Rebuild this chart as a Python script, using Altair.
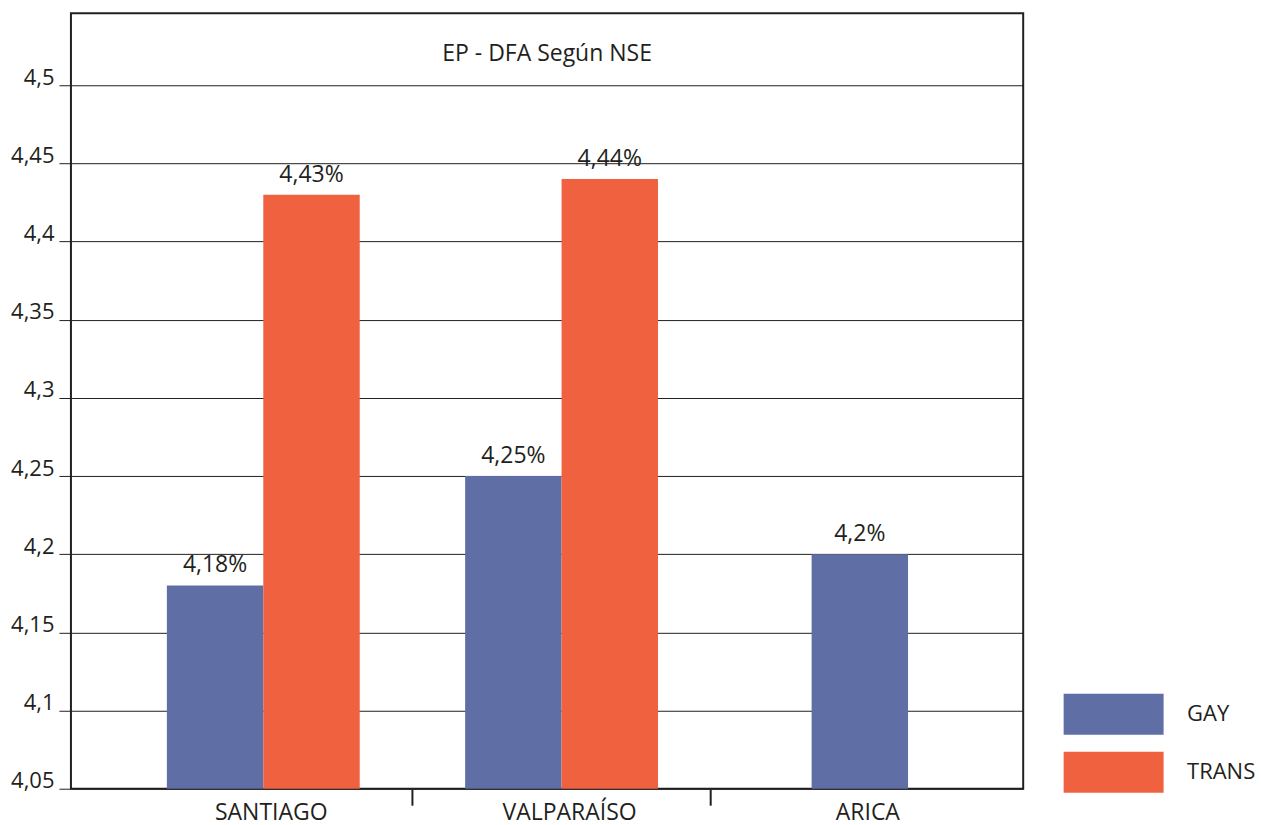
import altair as alt
import pandas as pd

# --- data -------------------------------------------------------------
cities = ["SANTIAGO", "VALPARAÍSO", "ARICA"]
groups = ["GAY", "TRANS"]
gay_values = [4.18, 4.25, 4.2]
trans_values = [4.43, 4.44, None]
y_ticks = [4.05, 4.1, 4.15, 4.2, 4.25, 4.3, 4.35, 4.4, 4.45, 4.5]
title_text = "EP - DFA Según NSE"
palette = ["#5f6fa6", "#f0623f"]

rows = []
for city, g, t in zip(cities, gay_values, trans_values):
    rows.append({"ciudad": city, "grupo": "GAY", "valor": g})
    if t is not None:
        rows.append({"ciudad": city, "grupo": "TRANS", "valor": t})
df = pd.DataFrame(rows)

W, H = 953, 776
INK = "#231f20"
FONT = "Open Sans"
PAD_INNER = 0.3534
PAD_OUTER = 0.273

band_scale = alt.Scale(domain=cities, paddingInner=PAD_INNER, paddingOuter=PAD_OUTER, align=0.589)
x_axis = alt.Axis(
    title=None, ticks=False, domain=False, labelAngle=0,
    labelPadding=13, labelFontSize=23, labelColor=INK, labelOffset=8,
    labelFont=FONT,
)

x_enc = alt.X("ciudad:N", sort=cities, scale=band_scale, axis=x_axis)
y_enc = alt.Y(
    "valor:Q",
    scale=alt.Scale(domain=[4.05, 4.546], nice=False, zero=False),
    axis=alt.Axis(
        title=None, values=y_ticks, grid=True, gridColor=INK, gridOpacity=1,
        gridWidth=1, tickSize=12, tickColor=INK, tickWidth=1, domain=False,
        labelBaseline="alphabetic", labelPadding=5, labelFontSize=22,
        labelColor=INK, labelFont=FONT, labelOffset=-1,
        labelExpr="replace(format(datum.value, '.2~f'), '.', ',')",
    ),
)
# wide rectangular swatches: path spans 2.44 x 1 units of the symbol radius
color_enc = alt.Color(
    "grupo:N",
    scale=alt.Scale(domain=groups, range=palette),
    legend=alt.Legend(
        title=None, orient="none", legendX=1023, legendY=681,
        symbolType="M-2.44,-1H2.44V1H-2.44Z", symbolSize=1681,
        symbolStrokeWidth=0, symbolOpacity=1, labelFontSize=22,
        labelColor=INK, labelFont=FONT, labelOffset=53, rowPadding=17,
    ),
)
offset_enc = alt.XOffset("grupo:N", scale=alt.Scale(domain=groups, paddingInner=0, paddingOuter=0))

label_expr = "replace(format(datum.valor, '.2~f'), '.', ',') + '%'"

base = alt.Chart(df).transform_joinaggregate(n="count()", groupby=["ciudad"])

# cities with both groups: side-by-side bars
paired = base.transform_filter("datum.n > 1")
paired_bars = paired.mark_bar(clip=True).encode(x=x_enc, xOffset=offset_enc, y=y_enc, color=color_enc)
paired_text = paired.transform_calculate(etiqueta=label_expr).mark_text(
    fontSize=23, font=FONT, color=INK, baseline="alphabetic", dy=-13
).encode(x=x_enc, xOffset=offset_enc, y=y_enc, text="etiqueta:N")

# cities with a single group: one centred bar
single = base.transform_filter("datum.n == 1")
single_bars = single.mark_bar(clip=True, width=alt.RelativeBandSize(0.5)).encode(
    x=x_enc, y=y_enc, color=color_enc
)
single_text = single.transform_calculate(etiqueta=label_expr).mark_text(
    fontSize=23, font=FONT, color=INK, baseline="alphabetic", dy=-13
).encode(x=x_enc, y=y_enc, text="etiqueta:N")

# separator ticks between categories below the axis (half the inner gap past each band)
gap_half = PAD_INNER * (W / (3 - PAD_INNER + 2 * PAD_OUTER)) / 2
separators = alt.Chart(pd.DataFrame({"ciudad": cities[:-1]})).mark_rule(
    color=INK, strokeWidth=2, xOffset=gap_half
).encode(
    x=alt.X("ciudad:N", sort=cities, scale=band_scale, bandPosition=1, axis=x_axis),
    y=alt.value(H + 1),
    y2=alt.value(H + 17),
)

title = alt.Chart(pd.DataFrame({"t": [title_text]})).mark_text(
    fontSize=23, font=FONT, color=INK, baseline="middle", align="center"
).encode(text="t:N", x=alt.value(W / 2), y=alt.value(41))

chart = alt.layer(
    paired_bars, single_bars, paired_text, single_text, separators, title
).properties(
    width=W, height=H,
    padding={"left": 10, "top": 13, "right": 5, "bottom": 5},
).configure(
    font=FONT, background="white"
).configure_view(
    stroke=INK, strokeWidth=2
)

chart.save("out.html", embed_options={"renderer": "svg", "actions": False})
